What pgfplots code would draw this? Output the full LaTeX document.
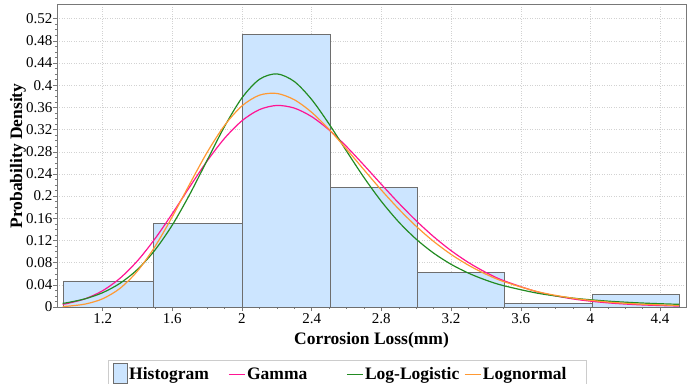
\documentclass[border=0pt]{standalone}
\usepackage{fontspec}
\setmainfont{Liberation Serif}
\usepackage{pgfplots}
\pgfplotsset{compat=1.18}
\definecolor{histblue}{RGB}{204,229,255}
\definecolor{histedge}{RGB}{110,110,110}
\definecolor{gammac}{RGB}{255,20,147}
\definecolor{llc}{RGB}{34,139,34}
\definecolor{lnc}{RGB}{255,153,51}
\definecolor{axgray}{RGB}{120,120,120}
\begin{document}
\begin{tikzpicture}
\begin{axis}[
  at={(0pt,0pt)}, anchor=south west,
  scale only axis, width=629pt, height=302pt,
  xmin=0.938, xmax=4.549, ymin=0, ymax=0.5445,
  xtick={1.2,1.6,2.0,2.4,2.8,3.2,3.6,4.0,4.4},
  xticklabels={1.2,1.6,2,2.4,2.8,3.2,3.6,4,4.4},
  ytick={0,0.04,0.08,0.12,0.16,0.2,0.24,0.28,0.32,0.36,0.4,0.44,0.48,0.52},
  yticklabels={0,0.04,0.08,0.12,0.16,0.2,0.24,0.28,0.32,0.36,0.4,0.44,0.48,0.52},
  minor x tick num=3, minor y tick num=3,
  tick align=outside, tick pos=left,
  major tick length=4pt, minor tick length=2pt,
  every tick/.style={axgray},
  grid=major, grid style={dotted, gray!35},
  axis line style={axgray, line width=1pt},
  tick label style={font=\fontsize{15}{15}\selectfont},
  yticklabel style={inner xsep=0.5pt},
  xticklabel style={inner ysep=2pt},
  xlabel={Corrosion Loss(mm)}, ylabel={Probability Density},
  label style={font=\bfseries\fontsize{17.5}{17.5}\selectfont},
  xlabel style={at={(axis description cs:0.5,0)}, anchor=center, yshift=-33pt},
  ylabel style={at={(axis description cs:-0.062,0.5)}, anchor=center},
  legend columns=4,
  legend cell align=left,
  legend style={at={(axis description cs:0.0811,-0.176)}, anchor=north west,
    draw=gray!40, line width=0.8pt, fill=white,
    font=\bfseries\fontsize{17.5}{17.5}\selectfont,
    inner xsep=4.5pt, inner ysep=2.5pt, column sep=0pt,
    nodes={inner sep=1.5pt}},
]
\addplot[ybar interval, fill=histblue, draw=histedge, line width=0.8pt,
  legend image code/.code={\draw[fill=histblue, draw=histedge, line width=0.8pt] (0pt,-9pt) rectangle (14pt,11pt);}]
  coordinates {(0.975,0.047) (1.49,0.151) (2.0,0.492) (2.505,0.215) (3.005,0.063) (3.505,0.007) (4.01,0.022) (4.51,0.022)};
\addlegendentry{\makebox[97.5pt][l]{Histogram}}
\addplot[gammac, line width=1.2pt, smooth,
  legend image code/.code={\draw[gammac, line width=1.4pt] (0pt,0pt) -- (16pt,0pt);}]
  coordinates {(0.97,0.00496) (1.0,0.00653) (1.1,0.01483) (1.2,0.02937) (1.3,0.05191) (1.4,0.08325) (1.5,0.12283) (1.6,0.16842) (1.7,0.21665) (1.8,0.26329) (1.9,0.30415) (2.0,0.33582) (2.1,0.35588) (2.2,0.36337) (2.3,0.35866) (2.4,0.34322) (2.5,0.31923) (2.6,0.28923) (2.7,0.25578) (2.8,0.22118) (2.9,0.18731) (3.0,0.15555) (3.1,0.12686) (3.2,0.10170) (3.3,0.08024) (3.4,0.06238) (3.5,0.04779) (3.7,0.02698) (3.9,0.01452) (4.1,0.00749) (4.3,0.00371) (4.51,0.00171)};
\addlegendentry{\makebox[97.5pt][l]{Gamma}}
\addplot[llc, line width=1.2pt, smooth,
  legend image code/.code={\draw[llc, line width=1.4pt] (0pt,0pt) -- (16pt,0pt);}]
  coordinates {(0.97,0.00655) (1.0,0.00798) (1.1,0.01478) (1.2,0.02580) (1.3,0.04279) (1.4,0.06774) (1.5,0.10247) (1.6,0.14783) (1.7,0.20309) (1.8,0.26459) (1.9,0.32562) (2.0,0.37713) (2.1,0.41045) (2.2,0.42032) (2.3,0.40663) (2.4,0.37407) (2.5,0.32988) (2.6,0.28121) (2.7,0.23361) (2.8,0.19045) (2.9,0.15327) (3.0,0.12233) (3.1,0.09718) (3.2,0.07704) (3.3,0.06107) (3.4,0.04849) (3.5,0.03860) (3.7,0.02469) (3.9,0.01604) (4.1,0.01060) (4.3,0.00712) (4.51,0.00477)};
\addlegendentry{\makebox[97.5pt][l]{Log-Logistic}}
\addplot[lnc, line width=1.2pt, smooth,
  legend image code/.code={\draw[lnc, line width=1.4pt] (0pt,0pt) -- (16pt,0pt);}]
  coordinates {(0.97,0.00094) (1.0,0.00146) (1.1,0.00530) (1.2,0.01482) (1.3,0.03368) (1.4,0.06481) (1.5,0.10873) (1.6,0.16284) (1.7,0.22182) (1.8,0.27886) (1.9,0.32743) (2.0,0.36263) (2.1,0.38190) (2.2,0.38504) (2.3,0.37376) (2.4,0.35098) (2.5,0.32016) (2.6,0.28467) (2.7,0.24748) (2.8,0.21089) (2.9,0.17656) (3.0,0.14554) (3.1,0.11827) (3.2,0.09494) (3.3,0.07537) (3.4,0.05923) (3.5,0.04615) (3.7,0.02737) (3.9,0.01583) (4.1,0.00897) (4.3,0.00500) (4.51,0.00267)};
\addlegendentry{\makebox[97.5pt][l]{Lognormal}}
\end{axis}
\pgfresetboundingbox
\useasboundingbox (-57pt,-76pt) rectangle (636pt,307pt);
\end{tikzpicture}
\end{document}
